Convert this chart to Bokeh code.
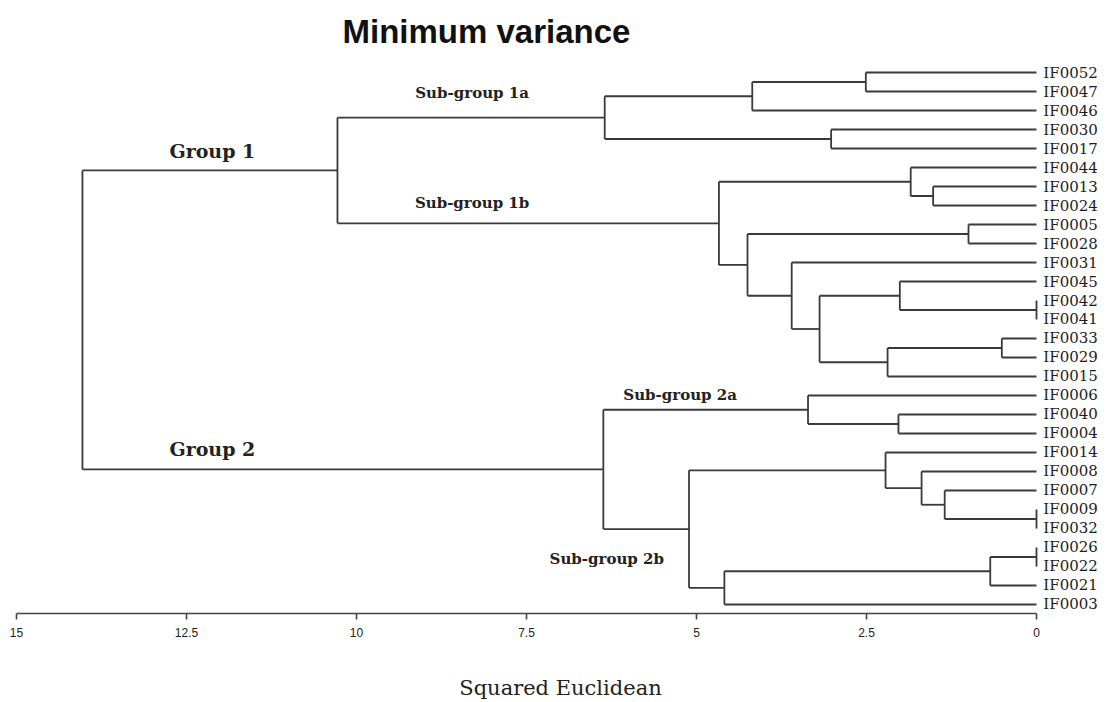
from bokeh.plotting import figure
from bokeh.models import ColumnDataSource, Range1d, FixedTicker, Title
from bokeh.core.properties import value
from bokeh.embed import file_html
from bokeh.resources import INLINE

# ---------------- data ----------------
leaves = ["IF0052", "IF0047", "IF0046", "IF0030", "IF0017", "IF0044", "IF0013",
          "IF0024", "IF0005", "IF0028", "IF0031", "IF0045", "IF0042", "IF0041",
          "IF0033", "IF0029", "IF0015", "IF0006", "IF0040", "IF0004", "IF0014",
          "IF0008", "IF0007", "IF0009", "IF0032", "IF0026", "IF0022", "IF0021",
          "IF0003"]

merge_name = ["c1", "c2", "c3", "c4", "c5", "c6", "c7", "c8", "c9", "c10",
              "c11", "c12", "c13", "c14", "c15", "c16", "c17", "c18", "c19", "c20",
              "c21", "c22", "c23", "c24", "c25", "c26", "c27", "c28"]
merge_a = ["IF0042", "IF0009", "IF0026", "IF0033", "c3", "IF0005", "IF0007",
           "IF0013", "IF0008", "IF0044", "IF0045", "IF0040", "c4", "IF0014",
           "IF0052", "IF0030", "c11", "IF0006", "IF0031", "c15", "c6", "c5",
           "c10", "c14", "c20", "c18", "c25", "c27"]
merge_b = ["IF0041", "IF0032", "IF0022", "IF0029", "IF0021", "IF0028", "c2",
           "IF0024", "c7", "c8", "c1", "IF0004", "IF0015", "c9",
           "IF0047", "IF0017", "c13", "c12", "c17", "IF0046", "c19", "IF0003",
           "c21", "c22", "c16", "c24", "c23", "c26"]
merge_h = [0.0, 0.0, 0.0, 0.51, 0.68, 1.00, 1.35, 1.52, 1.69, 1.85,
           2.01, 2.03, 2.19, 2.22, 2.51, 3.02, 3.19, 3.36, 3.60, 4.18,
           4.25, 4.59, 4.67, 5.11, 6.35, 6.37, 10.28, 14.03]

group_labels = ["Group 1", "Group 2", "Sub-group 1a", "Sub-group 1b",
                "Sub-group 2a", "Sub-group 2b"]
group_nodes = ["c27", "c26", "c25", "c23", "c18", "c24"]

axis_ticks = [15, 12.5, 10, 7.5, 5, 2.5, 0]
axis_tick_labels = ["15", "12.5", "10", "7.5", "5", "2.5", "0"]

title_text = "Minimum variance"
x_title = "Squared Euclidean"

# ---------------- tree geometry ----------------
pos = {name: float(i) for i, name in enumerate(leaves)}
hgt = {name: 0.0 for name in leaves}
x0, y0, x1, y1 = [], [], [], []
for name, a, b, h in zip(merge_name, merge_a, merge_b, merge_h):
    # vertical connector
    x0.append(h); y0.append(pos[a]); x1.append(h); y1.append(pos[b])
    # horizontal branches from children
    for c in (a, b):
        x0.append(hgt[c]); y0.append(pos[c]); x1.append(h); y1.append(pos[c])
    pos[name] = (pos[a] + pos[b]) / 2.0
    hgt[name] = h

seg = ColumnDataSource(dict(x0=x0, y0=y0, x1=x1, y1=y1))

# ---------------- figure ----------------
W, H = 1104, 702
LEFT, TOP, BOTTOM = 16, 55, 89
p = figure(width=W, height=H, output_backend="svg", toolbar_location=None,
           x_range=Range1d(15, 15 - (W - LEFT) / 68.0),
           y_range=Range1d(28.474, -0.895),
           y_axis_location=None,
           min_border_left=LEFT, min_border_right=0,
           min_border_top=TOP, min_border_bottom=BOTTOM)
p.outline_line_color = None
p.grid.visible = False
p.background_fill_color = "white"
p.border_fill_color = "white"

p.title = Title(text=title_text, text_font="Liberation Sans",
                text_font_size="33px", text_font_style="bold",
                text_color="#111111", align="left", offset=326, standoff=12)

p.segment(x0="x0", y0="y0", x1="x1", y1="y1", source=seg,
          line_color="#3a3a3a", line_width=1.8)

# leaf labels
leaf_src = ColumnDataSource(dict(x=[-0.1] * len(leaves),
                                 y=[float(i) for i in range(len(leaves))],
                                 t=leaves))
p.text(x="x", y="y", text="t", source=leaf_src,
       text_font=value("DejaVu Serif"), text_font_size="15px",
       text_color="#1e1e1e", text_align="left", text_baseline="middle")

# group labels, placed next to the branch they name
lab_x = {"Group 1": 12.12, "Group 2": 12.12, "Sub-group 1a": 8.3,
         "Sub-group 1b": 8.3, "Sub-group 2a": 5.24, "Sub-group 2b": 6.32}
lab_dy = {"Group 1": -1.05, "Group 2": -1.05, "Sub-group 1a": -1.3,
          "Sub-group 1b": -1.05, "Sub-group 2a": -0.8, "Sub-group 2b": 1.6}
big = [g for g in group_labels if g.startswith("Group")]
small = [g for g in group_labels if not g.startswith("Group")]
node_of = dict(zip(group_labels, group_nodes))
for names, size in ((big, "19px"), (small, "15px")):
    src = ColumnDataSource(dict(x=[lab_x[g] for g in names],
                                y=[pos[node_of[g]] + lab_dy[g] for g in names],
                                t=names))
    p.text(x="x", y="y", text="t", source=src,
           text_font=value("DejaVu Serif"), text_font_size=size,
           text_font_style="bold", text_color="#222222",
           text_align="center", text_baseline="middle")

# x axis
ax = p.xaxis[0]
ax.ticker = FixedTicker(ticks=axis_ticks)
ax.major_label_overrides = dict(zip(axis_ticks, axis_tick_labels))
ax.bounds = (0, 15)
ax.axis_line_color = "#444444"
ax.axis_line_width = 1.6
ax.major_tick_line_color = "#444444"
ax.major_tick_line_width = 1.6
ax.major_tick_out = 6
ax.major_tick_in = 0
ax.minor_tick_line_color = None
ax.major_label_standoff = 8
ax.major_label_text_font = "Liberation Sans"
ax.major_label_text_font_size = "12px"
ax.major_label_text_color = "#222222"
ax.axis_label = x_title
ax.axis_label_text_font = "DejaVu Serif"
ax.axis_label_text_font_size = "21px"
ax.axis_label_text_font_style = "normal"
ax.axis_label_text_color = "#222222"
ax.axis_label_standoff = 36

open("out.html", "w").write(file_html(p, INLINE))
